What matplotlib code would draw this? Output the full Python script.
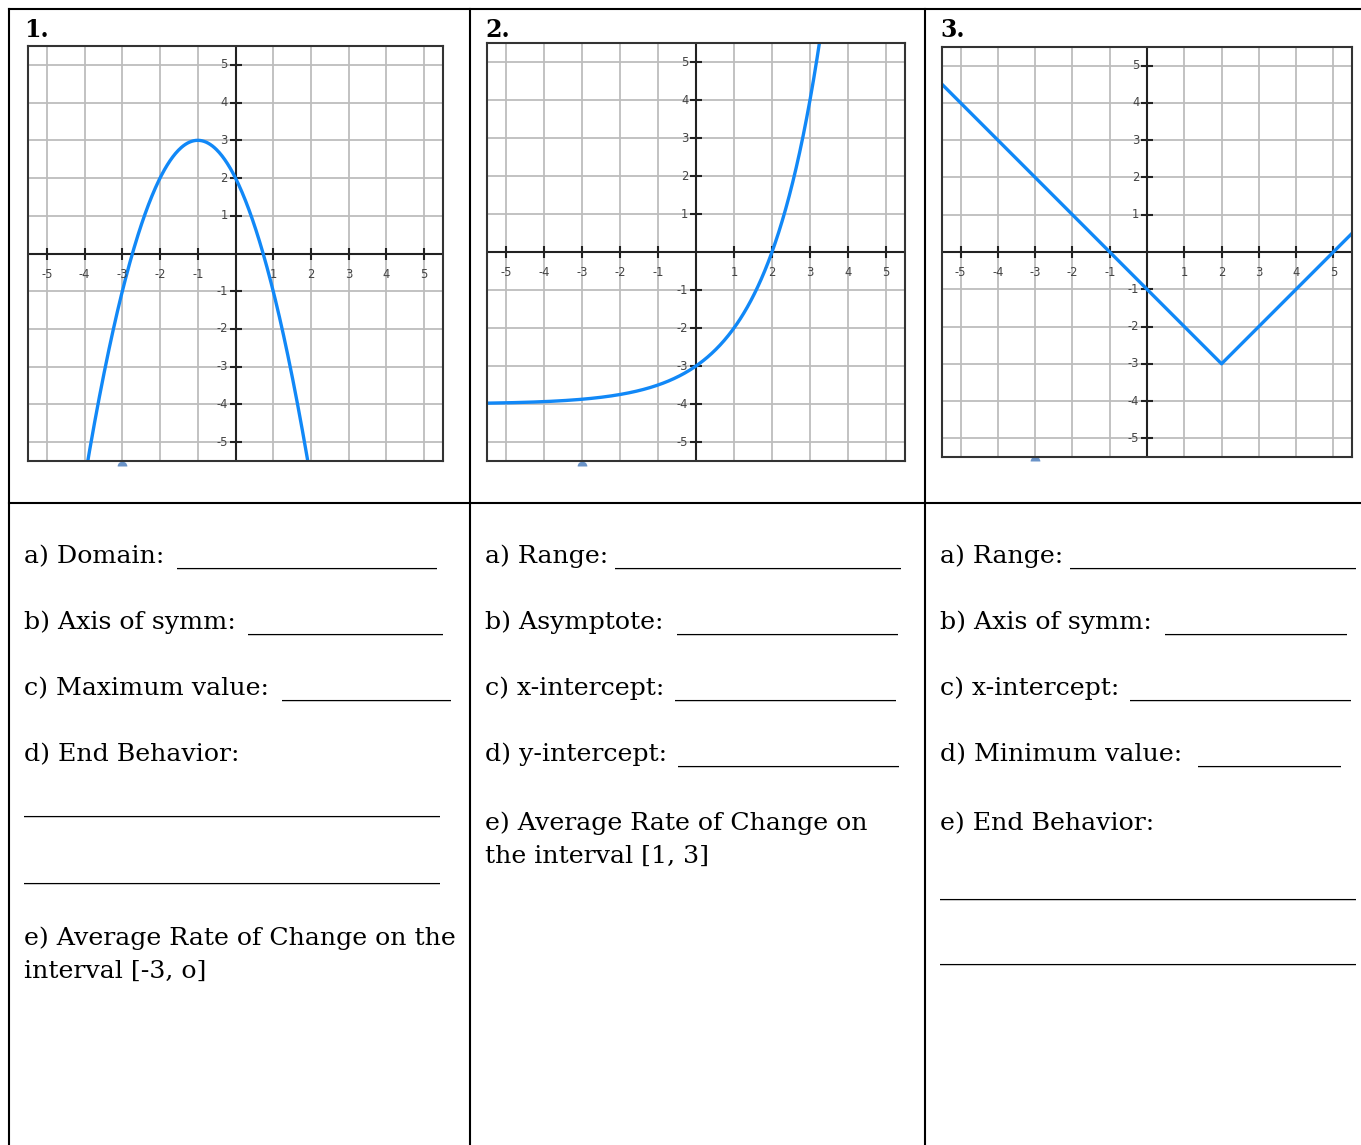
import numpy as np
import matplotlib
matplotlib.use("Agg")
import matplotlib.pyplot as plt
from matplotlib.lines import Line2D


# graph 1: parabola y = a(x - h)^2 + k
PARABOLA_VERTEX = (-1, 3)
PARABOLA_A = -1

# graph 2: exponential y = base^x + shift
EXP_BASE = 2
EXP_SHIFT = -4

# graph 3: absolute value, corner points of the V
ABS_X = [-5.5, 2, 5.5]
ABS_Y = [4.5, -3, 0.5]

TICKS = [-5, -4, -3, -2, -1, 1, 2, 3, 4, 5]
GRID = list(range(-5, 6))
LIMIT = 5.5

COL1 = ["a) Domain:", "b) Axis of symm:", "c) Maximum value:", "d) End Behavior:"]
COL1_E = ["e) Average Rate of Change on the", "interval [-3, o]"]
COL2 = ["a) Range:", "b) Asymptote:", "c) x-intercept:", "d) y-intercept:"]
COL2_E = ["e) Average Rate of Change on", "the interval [1, 3]"]
COL3 = ["a) Range:", "b) Axis of symm:", "c) x-intercept:", "d) Minimum value:",
        "e) End Behavior:"]

BLUE = "#1188f7"
W, H = 1361, 1145

fig = plt.figure(figsize=(W / 100, H / 100), dpi=100)
fig.patch.set_facecolor("white")


def fx(x):
    return x / W


def fy(y):
    return 1 - y / H


def hline(x0, x1, y, lw=1.5):
    fig.add_artist(Line2D([fx(x0), fx(x1)], [fy(y), fy(y)], color="black", lw=lw))


def vline(x, y0, y1, lw=1.5):
    fig.add_artist(Line2D([fx(x), fx(x)], [fy(y0), fy(y1)], color="black", lw=lw))


# table frame
hline(9, W, 9)
hline(9, W, 503)
vline(9, 9, H)
vline(470, 9, H)
vline(925, 9, H)


def graph(left, top, right, bottom):
    ax = fig.add_axes([fx(left), fy(bottom), fx(right - left), (bottom - top) / H])
    ax.set_xlim(-LIMIT, LIMIT)
    ax.set_ylim(-LIMIT, LIMIT)
    ax.set_xticks(GRID)
    ax.set_yticks(GRID)
    ax.tick_params(length=0, labelbottom=False, labelleft=False)
    ax.grid(True, color="#bdbdbd", lw=1.3)
    for s in ax.spines.values():
        s.set_color("#333333")
        s.set_linewidth(1.5)
    ax.axhline(0, color="#222222", lw=1.5)
    ax.axvline(0, color="#222222", lw=1.5)
    ax.plot(TICKS, [0] * len(TICKS), ls="none", marker="|", ms=8,
            mew=1.5, color="#222222")
    ax.plot([0] * len(TICKS), TICKS, ls="none", marker="_", ms=8,
            mew=1.5, color="#222222")
    for t in TICKS:
        ax.annotate(str(t), (t, 0), xytext=(0, -15), textcoords="offset points",
                    ha="center", va="center", fontsize=8.3, color="#444444")
        ax.annotate(str(t), (0, t), xytext=(-5.5, 0), textcoords="offset points",
                    ha="right", va="center", fontsize=8.3, color="#444444")
    # small marker just under the frame
    ax.plot([-3], [-5.62], marker="o", ms=7, fillstyle="top", mew=0,
            color="#6a93c8", clip_on=False)
    return ax


ax1 = graph(28, 46, 443, 461)
x = np.linspace(-LIMIT, LIMIT, 600)
h, k = PARABOLA_VERTEX
ax1.plot(x, PARABOLA_A * (x - h) ** 2 + k, color=BLUE, lw=2.4)

ax2 = graph(487, 43, 905, 461)
ax2.plot(x, EXP_BASE ** x + EXP_SHIFT, color=BLUE, lw=2.4)

ax3 = graph(942, 47, 1352, 457)
ax3.plot(ABS_X, ABS_Y, color=BLUE, lw=2.4)

SERIF = "DejaVu Serif"
FS = 18.2
FS_BLANK = 18.7

for num, xl in zip(["1.", "2.", "3."], [24, 485, 940]):
    fig.text(fx(xl), fy(37), num, fontsize=17, fontweight="bold",
             family=SERIF, va="baseline")

renderer = fig.canvas.get_renderer()
probe = fig.text(0, 0, "_" * 10, fontsize=FS_BLANK, family=SERIF)
uw = probe.get_window_extent(renderer).width / 10
probe.remove()


def blank(x0, x1, y):
    n = int(round((x1 - x0) / uw))
    fig.text(fx(x0), fy(y), "_" * n, fontsize=FS_BLANK, family=SERIF,
             va="baseline")


def label(xl, y, s):
    fig.text(fx(xl), fy(y), s, fontsize=FS, family=SERIF, va="baseline")


rows = [563, 629, 695, 761, 830]

# column 1
for s, y in zip(COL1, rows):
    label(24, y, s)
blank(177, 441, 563)
blank(248, 437, 629)
blank(282, 451, 695)
blank(24, 438, 811)
blank(24, 438, 878)
label(24, 945, COL1_E[0])
label(24, 978, COL1_E[1])

# column 2
for s, y in zip(COL2, rows):
    label(485, y, s)
blank(615, 898, 563)
blank(677, 902, 629)
blank(675, 902, 695)
blank(678, 903, 761)
label(485, 830, COL2_E[0])
label(485, 863, COL2_E[1])

# column 3
for s, y in zip(COL3, rows):
    label(940, y, s)
blank(1070, 1353, 563)
blank(1165, 1353, 629)
blank(1130, 1355, 695)
blank(1198, 1347, 761)
blank(940, 1353, 894)
blank(940, 1353, 959)

fig.savefig("out.png", dpi=100)
